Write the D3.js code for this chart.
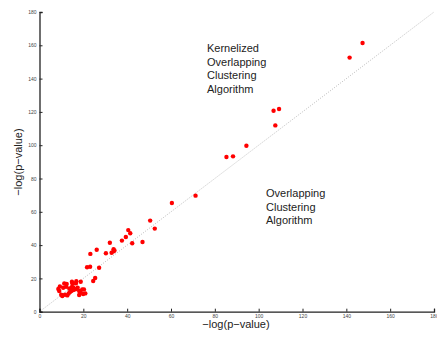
<!DOCTYPE html>
<html lang="en">
<head>
    <meta charset="UTF-8">
    <title>Scatter</title>
    <script src="https://d3js.org/d3.v7.min.js"></script>
    <style>
        body { margin: 0; background: #fff; }
        text { font-family: 'Liberation Sans', Arial, sans-serif; fill: #222; }
        .tick text { font-size: 5px; fill: #444; }
    </style>
</head>
<body>
<script>

    const width  = 437;
    const height = 337;

    // x = overlapping clustering, y = kernelized overlapping clustering
    const xVals = [
        8.6, 9.3, 9.0, 9.9, 10.4, 10.8, 11.3, 11.6, 12.1, 12.4, 12.7, 13.3, 13.6, 13.9,
        14.5, 14.8, 14.8, 15.0, 15.4, 15.4, 16.2, 16.6, 16.8, 16.9, 17.4, 18.1, 18.1,
        18.8, 18.8, 19.5, 20.3, 20.9, 19.9,
        21.7, 23.1, 27.2, 25.4, 24.5, 23.2, 26.1, 30.3, 32.1, 32.9, 33.8, 33.8, 34.2,
        37.6, 39.4, 40.5, 41.4, 42.3, 47.0, 50.5, 52.6, 60.4, 71.2, 85.3, 88.3, 94.4,
        106.8, 109.3, 107.6, 141.5, 147.4
    ];
    const yVals = [
        13.6, 15.2, 12.4, 10.2, 9.4, 14.4, 17.0, 10.2, 15.0, 16.6, 9.8, 11.0, 14.0, 11.8,
        12.4, 14.8, 18.0, 17.0, 13.0, 14.6, 13.4, 17.0, 18.3, 13.8, 14.4, 12.4, 10.0,
        18.0, 11.4, 13.4, 13.4, 11.0, 10.6,
        26.7, 27.0, 26.4, 20.2, 18.4, 34.7, 37.2, 35.1, 41.4, 35.4, 37.5, 36.3, 36.8,
        42.7, 44.9, 49.0, 47.1, 41.1, 41.9, 54.7, 49.9, 65.3, 69.7, 92.9, 93.3, 99.7,
        120.7, 121.7, 111.9, 152.6, 161.4
    ];
    const tickVals = [0, 20, 40, 60, 80, 100, 120, 140, 160, 180];

    const x = d3.scaleLinear().domain([0, 180]).range([39.5, 434]);
    const y = d3.scaleLinear().domain([0, 180]).range([311.7, 12]);

    const svg = d3.select("body")
            .append("svg")
            .attr("width", width)
            .attr("height", height);

    // y = x reference line
    svg.append("line")
            .attr("x1", x(0)).attr("y1", y(0))
            .attr("x2", x(180)).attr("y2", y(180))
            .attr("stroke", "#aaa")
            .attr("stroke-width", 0.8)
            .attr("stroke-dasharray", "1,1.5");

    svg.append("g")
            .attr("transform", "translate(0," + y(0) + ")")
            .call(d3.axisBottom(x).tickValues(tickVals).tickSize(-3).tickPadding(3))
            .call(g => g.select(".domain").attr("stroke", "#222").attr("stroke-width", 1.3))
            .call(g => g.selectAll(".tick line").attr("stroke", "#222"));

    svg.append("g")
            .attr("transform", "translate(" + x(0) + ",0)")
            .call(d3.axisLeft(y).tickValues(tickVals).tickSize(-3).tickPadding(3))
            .call(g => g.select(".domain").attr("stroke", "#222").attr("stroke-width", 1.3))
            .call(g => g.selectAll(".tick line").attr("stroke", "#222"));

    svg.selectAll(".pt")
            .data(xVals)
            .enter()
            .append("circle").attr("class", "pt")
            .attr("cx", d => x(d))
            .attr("cy", (d, i) => y(yVals[i]))
            .attr("r", 2.2)
            .attr("fill", "#ff0000");

    svg.append("text")
            .text("\u2212log(p\u2212value)")
            .attr("x", 236)
            .attr("y", 328)
            .attr("text-anchor", "middle")
            .style("font-size", "11px");

    svg.append("text")
            .text("\u2212log(p\u2212value)")
            .attr("transform", "translate(22,162) rotate(-90)")
            .attr("text-anchor", "middle")
            .style("font-size", "11px");

    const note1 = ["Kernelized", "Overlapping", "Clustering", "Algorithm"];
    const note2 = ["Overlapping", "Clustering", "Algorithm"];

    svg.append("g").selectAll("text")
            .data(note1).enter()
            .append("text")
            .text(d => d)
            .attr("x", 207)
            .attr("y", (d, i) => 52 + i * 13.7)
            .style("font-size", "11px");

    svg.append("g").selectAll("text")
            .data(note2).enter()
            .append("text")
            .text(d => d)
            .attr("x", 266)
            .attr("y", (d, i) => 197 + i * 13.7)
            .style("font-size", "11px");

</script>
</body>
</html>
